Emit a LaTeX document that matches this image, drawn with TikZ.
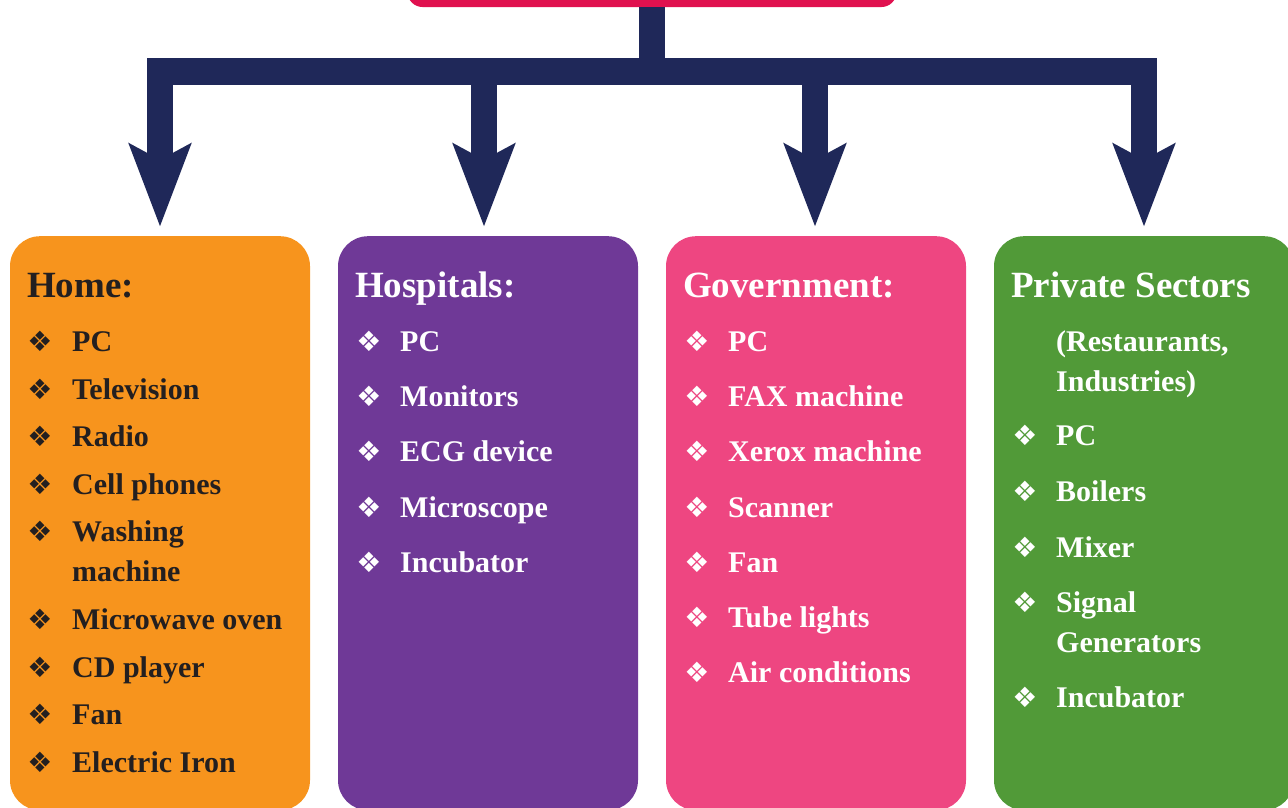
\documentclass[tikz,border=0pt]{standalone}
\usepackage{fontspec}
\setmainfont{Liberation Serif}
\newfontfamily\bulletfont{DejaVu Sans}
\usetikzlibrary{arrows.meta}

\definecolor{navy}{HTML}{1F2859}
\definecolor{rootpink}{HTML}{E0114F}
\definecolor{homeorange}{HTML}{F7941D}
\definecolor{hosppurple}{HTML}{6F3997}
\definecolor{govtpink}{HTML}{EE4681}
\definecolor{privgreen}{HTML}{519A38}
\definecolor{ink}{HTML}{231F20}

\tikzset{
  pipe/.style={draw=navy, line width=26.5pt},
  >={Stealth[length=82pt, width=60pt, inset=15pt]},
  panel/.style={rounded corners=30pt, minimum width=300pt, minimum height=574pt, anchor=north, inner sep=0pt},
  heading/.style={anchor=base west, inner sep=0pt, font=\fontsize{37}{44}\selectfont\bfseries},
  entry/.style={anchor=base west, inner sep=0pt, font=\fontsize{30}{36}\selectfont\bfseries},
  bulletmark/.style={anchor=center, inner sep=0pt, font=\bulletfont\fontsize{28}{30}\selectfont}
}

\begin{document}
\begin{tikzpicture}[x=1pt, y=-1pt]
    \useasboundingbox (0,0) rectangle (1288,807);

    % Top box (cut off by the page)
    \node[fill=rootpink, rounded corners=15pt, minimum width=489pt, minimum height=60pt, inner sep=0pt] (root) at (652,-23) {};

    % Category panels
    \node[panel, fill=homeorange] (home) at (160,236) {};
    \node[panel, fill=hosppurple] (hosp) at (488,236) {};
    \node[panel, fill=govtpink]   (govt) at (816,236) {};
    \node[panel, fill=privgreen]  (priv) at (1144,236) {};

    % Arrow tips and bar
    \coordinate (bar) at (652,71.5);
    \coordinate (t1) at ([yshift=9pt]home.north);
    \coordinate (t2) at ([xshift=-4pt, yshift=9pt]hosp.north);
    \coordinate (t3) at ([xshift=-1pt, yshift=9pt]govt.north);
    \coordinate (t4) at ([yshift=9pt]priv.north);

    % Connectors
    \draw[pipe] (root.south) -- (bar);
    \draw[pipe, <->] (t1) |- (bar) -| (t4);
    \draw[pipe, ->] (bar -| t2) -- (t2);
    \draw[pipe, ->] (bar -| t3) -- (t3);

    % Home
    \node[heading, text=ink] (homehead) at (27,297) {Home:};
    \foreach \y/\txt [count=\i] in {341/PC, 389/Television, 436/Radio, 484/Cell phones, 531/Washing, 619/Microwave oven, 667/CD player, 714/Fan, 762/Electric Iron} {
      \node[bulletmark, text=ink] (hb\i) at (40,\y) {❖};
      \node[entry, text=ink] (ht\i) at (72,\y+10.5) {\txt};
    }
    \node[entry, text=ink] (htwrap) at (72,581.5) {machine};

    % Hospitals
    \node[heading, text=white] (hosphead) at (355,297) {Hospitals:};
    \foreach \y/\txt [count=\i] in {341/PC, 396/Monitors, 451/ECG device, 507/Microscope, 562/Incubator} {
      \node[bulletmark, text=white] (sb\i) at (369,\y) {❖};
      \node[entry, text=white] (st\i) at (400,\y+10.5) {\txt};
    }

    % Government
    \node[heading, text=white] (govthead) at (683,297) {Government:};
    \foreach \y/\txt [count=\i] in {341/PC, 396/FAX machine, 451/Xerox machine, 507/Scanner, 562/Fan, 617/Tube lights, 672/Air conditions} {
      \node[bulletmark, text=white] (gb\i) at (697,\y) {❖};
      \node[entry, text=white] (gt\i) at (728,\y+10.5) {\txt};
    }

    % Private sectors
    \node[heading, text=white] (privhead) at (1011,297) {Private Sectors};
    \node[entry, text=white] (privsub1) at (1056,351.5) {(Restaurants,};
    \node[entry, text=white] (privsub2) at (1056,391.5) {Industries)};
    \foreach \y/\txt [count=\i] in {435/PC, 491/Boilers, 547/Mixer, 602/Signal, 697/Incubator} {
      \node[bulletmark, text=white] (pb\i) at (1025,\y) {❖};
      \node[entry, text=white] (pt\i) at (1056,\y+10.5) {\txt};
    }
    \node[entry, text=white] (ptwrap) at (1056,652.5) {Generators};
  \end{tikzpicture}
\end{document}
